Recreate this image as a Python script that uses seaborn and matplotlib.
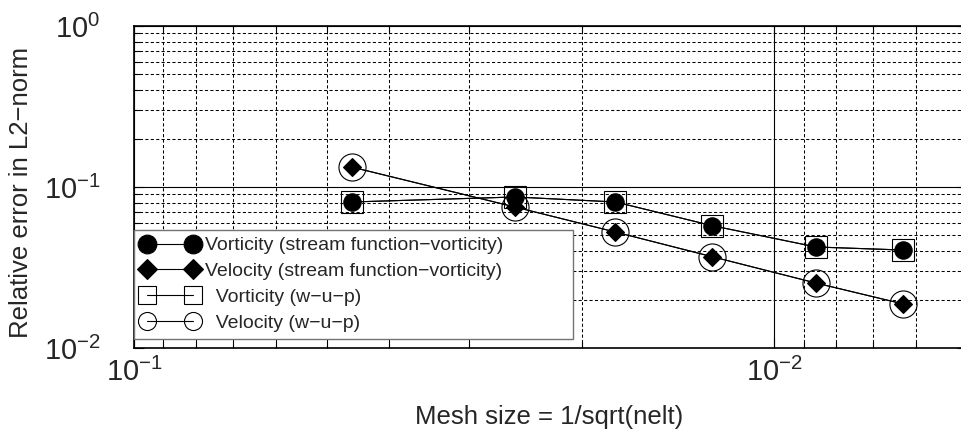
import numpy as np
import pandas as pd
import matplotlib
matplotlib.use("Agg")
import matplotlib.pyplot as plt
import seaborn as sns
from matplotlib.ticker import LogLocator, NullFormatter, LogFormatterSciNotation

# ---- data ----
mesh_size = [0.0457, 0.0254, 0.0177, 0.0125, 0.0086, 0.0063]
vorticity_sfv = [0.0807, 0.0867, 0.0807, 0.0575, 0.0424, 0.0406]
velocity_sfv = [0.133, 0.0751, 0.0525, 0.0369, 0.0253, 0.0188]
vorticity_wup = [0.0807, 0.0867, 0.0807, 0.0575, 0.0424, 0.0406]
velocity_wup = [0.133, 0.0751, 0.0525, 0.0369, 0.0253, 0.0188]
series_labels = [
    "Vorticity (stream function\u2212vorticity)",
    "Velocity (stream function\u2212vorticity)",
    "  Vorticity (w\u2212u\u2212p)",
    "  Velocity (w\u2212u\u2212p)",
]
x_label = "Mesh size = 1/sqrt(nelt)"
y_label = "Relative error in L2\u2212norm"

sns.set_style("ticks")
plt.rcParams["font.family"] = ["Liberation Sans", "DejaVu Sans"]
plt.rcParams["mathtext.fontset"] = "custom"
plt.rcParams["mathtext.rm"] = "Liberation Sans"
plt.rcParams["mathtext.it"] = "Liberation Sans:italic"
plt.rcParams["mathtext.default"] = "regular"

W, H = 961, 437
fig = plt.figure(figsize=(W / 100, H / 100), dpi=100)
ax_h = 348 - 26
ax_w = 967 - 134
ax = fig.add_axes([134 / W, (H - 348) / H, ax_w / W, ax_h / H])

df = pd.DataFrame({
    "h": mesh_size * 4,
    "err": vorticity_sfv + velocity_sfv + vorticity_wup + velocity_wup,
    "series": sum([[s] * len(mesh_size) for s in series_labels], []),
})

styles = [
    dict(marker="o", markersize=12.5, markerfacecolor="black", markeredgecolor="black", markeredgewidth=0.8),
    dict(marker="D", markersize=9, markerfacecolor="black", markeredgecolor="black", markeredgewidth=0.8),
    dict(marker="s", markersize=16.5, markerfacecolor="none", markeredgecolor="black", markeredgewidth=0.8),
    dict(marker="o", markersize=19.5, markerfacecolor="none", markeredgecolor="black", markeredgewidth=0.8),
]
legend_marker_sizes = [13.5, 10, 13.5, 13]

for lab, st in zip(series_labels, styles):
    sub = df[df["series"] == lab]
    sns.lineplot(data=sub, x="h", y="err", ax=ax, color="black", linewidth=0.8,
                 label=lab, legend=False, zorder=3, **st)

ax.set_xscale("log")
ax.set_yscale("log")
ax.set_xlim(0.1, 0.005)
ax.set_ylim(0.01, 1)

for axis in (ax.xaxis, ax.yaxis):
    axis.set_major_locator(LogLocator(base=10, numticks=10))
    axis.set_minor_locator(LogLocator(base=10, subs=np.arange(2, 10), numticks=20))
    axis.set_minor_formatter(NullFormatter())
    axis.set_major_formatter(LogFormatterSciNotation())

ax.tick_params(which="both", direction="in", top=True, right=True, color="black", width=0.8)
ax.tick_params(which="major", length=7)
ax.tick_params(which="minor", length=4)
ax.tick_params(axis="x", which="major", labelsize=21, pad=7)
ax.tick_params(axis="y", which="major", labelsize=21, pad=24)

ax.set_axisbelow(True)
ax.grid(which="major", color="black", linestyle="-", linewidth=0.8)
ax.grid(which="minor", color="black", linestyle=(0, (3, 2.2)), linewidth=0.75)

for side in ("top", "bottom", "left"):
    ax.spines[side].set_color("black")
    ax.spines[side].set_linewidth(1.2)
ax.spines["right"].set_visible(False)

ax.set_xlabel(x_label, fontsize=18.5)
ax.set_ylabel(y_label, fontsize=18.5)
ax.xaxis.set_label_coords((549 - 134) / ax_w, (348 - 405) / ax_h)
ax.yaxis.set_label_coords((33 - 134) / ax_w, (348 - 192) / ax_h)

handles, labels = ax.get_legend_handles_labels()
leg_top = (348 - 230) / ax_h
leg = ax.legend(handles, labels, loc="upper left",
                bbox_to_anchor=(0.0, leg_top - 0.4, (573 - 134) / ax_w, 0.4),
                mode="expand",
                borderaxespad=0, fontsize=14, numpoints=2, handlelength=2.96,
                handletextpad=0.36, borderpad=0.35, labelspacing=0.42,
                frameon=True, fancybox=False, edgecolor="0.45", framealpha=1)
leg.get_frame().set_linewidth(1.0)
for hd, ms in zip(leg.legend_handles, legend_marker_sizes):
    hd.set_markersize(ms)

fig.savefig("out.png", dpi=100)
